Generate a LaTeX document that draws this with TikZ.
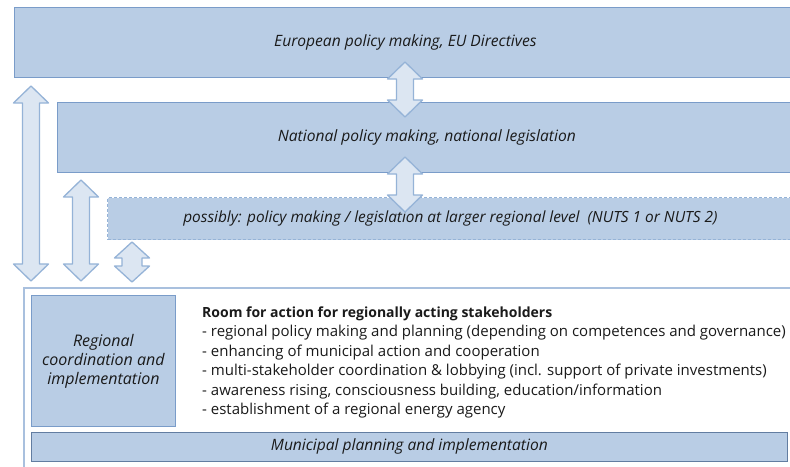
\documentclass[tikz,border=0pt]{standalone}
\usepackage{fontspec}
\setmainfont{Open Sans}
\usepackage{xcolor}
\usetikzlibrary{positioning}
\definecolor{levelFill}{HTML}{B9CDE5}
\definecolor{levelLine}{HTML}{7A9CC9}
\definecolor{arrowFill}{HTML}{DCE6F2}
\definecolor{arrowLine}{HTML}{95B3D7}
\definecolor{frameLine}{HTML}{A9C0DE}
\definecolor{textDark}{HTML}{1A1A1A}
\tikzset{level/.style={
    draw=levelLine, fill=levelFill, line width=0.8pt,
    anchor=north west, inner sep=0pt, text=textDark,
    font=\fontsize{15.6}{18}\selectfont\itshape
  },
  possible/.style={
    level, dashed, dash pattern=on 3pt off 2pt, draw=arrowLine, line width=1pt
  },
  arrowbox/.style={
    draw=arrowLine, fill=arrowFill, line width=1.3pt, line join=round
  }
}
% vertical double block arrow: centre x, top tip, bottom tip, head length, half shaft
\newcommand{\updown}[5]{%
  \draw[arrowbox] (#1-17.5,#2+#4) -- (#1,#2) -- (#1+17.5,#2+#4) -- (#1+#5,#2+#4)
    -- (#1+#5,#3-#4) -- (#1+17.5,#3-#4) -- (#1,#3) -- (#1-17.5,#3-#4)
    -- (#1-#5,#3-#4) -- (#1-#5,#2+#4) -- cycle;}

\begin{document}
\begin{tikzpicture}[x=1pt,y=-1pt]
        \clip (0,0) rectangle (790,466);
        \fill[white] (0,0) rectangle (790,466);
        % policy levels
        \node[level,minimum width=782pt,minimum height=70pt] (eu) at (14,7)
          {European policy making,\ EU Directives};
        \node[level,minimum width=739pt,minimum height=70pt] (national) at (57,102)
          {National policy making,\ national legislation};
        \node[possible,minimum width=686pt,minimum height=42pt,
          font=\fontsize{15.4}{18}\selectfont\itshape] (nuts) at (107,197)
          {possibly: policy making / legislation at larger regional level\ \ (NUTS 1 or NUTS 2)};
        % regional room for action
        \node[draw=frameLine,line width=2.4pt,anchor=north west,minimum width=790pt,
          minimum height=200pt] (room) at (23,287) {};
        \node[level,minimum width=144pt,minimum height=131pt,align=center,
          font=\fontsize{16}{19}\selectfont\itshape] (regional) at (31,295)
          {Regional\\coordination and\\implementation};
        \node[level,minimum width=756pt,minimum height=29pt,draw=levelLine!80!black,
          font=\fontsize{15.6}{18}\selectfont\itshape] (municipal) at (31,432)
          {Municipal planning and implementation};
        \node[anchor=base west,align=left,inner sep=0pt,text=textDark,
          font=\fontsize{15}{19.5}\selectfont] (actions) at (202,414.5)
          {{\fontsize{14}{19.5}\selectfont\bfseries Room for action for regionally acting stakeholders}\\
           - regional policy making and planning (depending on competences and governance)\\
           - enhancing of municipal action and cooperation\\
           - multi-stakeholder coordination \& lobbying (incl. support of private investments)\\
           - awareness rising, consciousness building, education/information\\
           - establishment of a regional energy agency};
        % arrows
        \updown{405}{62}{117}{17}{8.5}
        \updown{405}{157}{212}{17}{8.5}
        \updown{31}{86}{281}{17}{8.5}
        \updown{81}{180}{281}{17}{8.5}
        \updown{132}{242}{282}{16}{10}
      \end{tikzpicture}
\end{document}
